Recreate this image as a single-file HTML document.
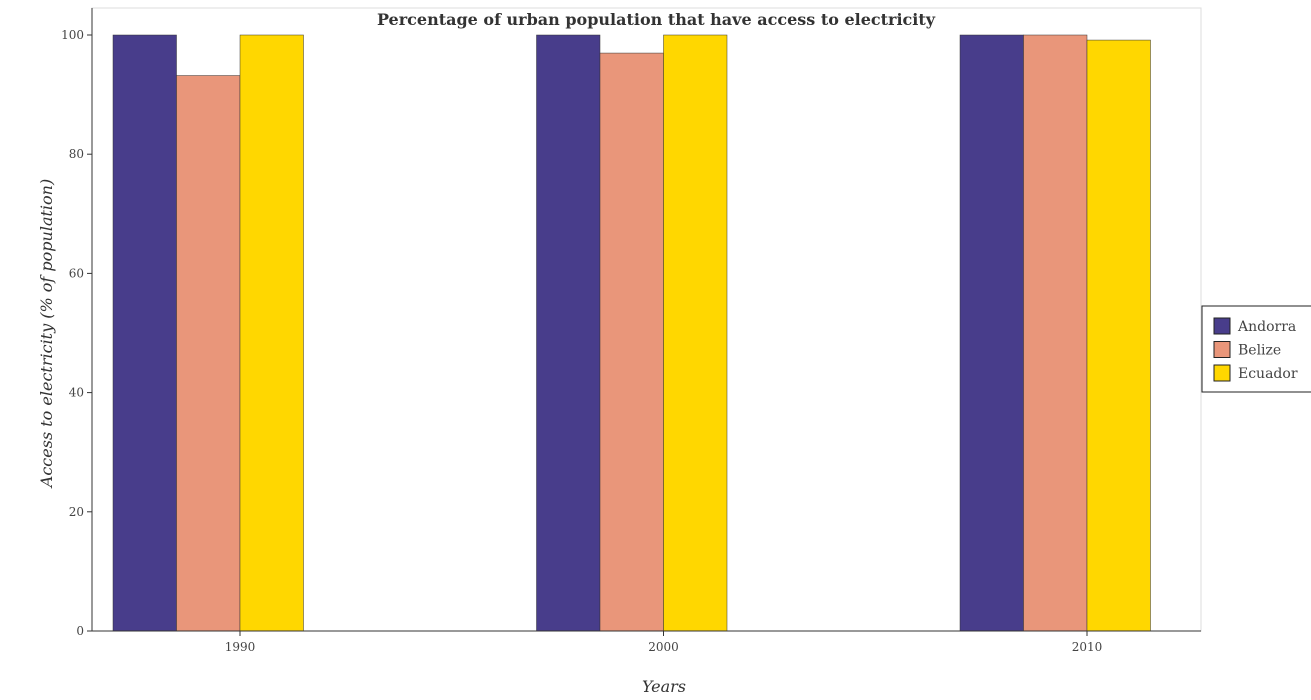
<!DOCTYPE html>
<html><head><meta charset="utf-8"><style>body{margin:0;background:#fff}svg{display:block;font-family:"DejaVu Serif","Liberation Serif",serif}</style></head><body>
<svg width="1311" height="700">
<rect x="0" y="0" width="1311" height="700" fill="#fff"/>
<rect x="92" y="8" width="1109" height="623" fill="#fff" stroke="#ddd"/>
<g id="bars"></g><g id="axes"></g>
<text x="656" y="25" text-anchor="middle" font-size="16" font-weight="bold" fill="#333">Percentage of urban population that have access to electricity</text>
<text x="664" y="692" text-anchor="middle" font-size="16" font-style="italic" fill="#333">Years</text>
<text transform="translate(52,333) rotate(-90)" text-anchor="middle" font-size="16" font-style="italic" fill="#333">Access to electricity (% of population)</text>
<g>
<rect x="1202" y="306" width="115" height="86" fill="#fff" stroke="#222"/>
<g id="legend"></g></g>
</svg>
<script>
const categories=["1990","2000","2010"];
const seriesNames=["Andorra","Belize","Ecuador"];
const andorra=[100,100,100];
const belize=[93.2,96.97,100];
const ecuador=[100,100,99.15];
const yTicks=[0,20,40,60,80,100];
const colors=["#483d8b","#e9967a","#ffd700"];
const ns="http://www.w3.org/2000/svg";
const y=v=>631-v*5.96;
const xc=i=>240+i*423.5;
const bw=63.5;
function mk(t,a,p){const e=document.createElementNS(ns,t);for(const k in a)e.setAttribute(k,a[k]);p.appendChild(e);return e;}
const bars=document.getElementById('bars'),axes=document.getElementById('axes');
[andorra,belize,ecuador].forEach((s,si)=>{s.forEach((v,i)=>{
const r=mk('rect',{x:xc(i)+(si-2)*bw,y:y(v),width:bw,height:631-y(v),fill:colors[si],stroke:"#333","stroke-width":0.5},bars);

});});
mk('line',{x1:92,y1:631,x2:1201,y2:631,stroke:"#333"},axes);
mk('line',{x1:92,y1:8,x2:92,y2:631,stroke:"#333"},axes);
yTicks.forEach(t=>{mk('line',{x1:87,x2:92,y1:y(t),y2:y(t),stroke:"#333"},axes);
const tx=mk('text',{x:84,y:y(t)+4,"text-anchor":"end","font-size":12,fill:"#444"},axes);tx.textContent=t;

});
categories.forEach((c,i)=>{mk('line',{x1:xc(i),x2:xc(i),y1:631,y2:636,stroke:"#333"},axes);
const tx=mk('text',{x:xc(i),y:651,"text-anchor":"middle","font-size":12,fill:"#444"},axes);tx.textContent=c;

});
const lg=document.getElementById('legend');
seriesNames.forEach((n,i)=>{const yy=318+i*23.5;
mk('rect',{x:1214,y:yy,width:16,height:16,fill:colors[i],stroke:"#222"},lg);
const tx=mk('text',{x:1238,y:yy+13,"font-size":14,fill:"#444"},lg);tx.textContent=n;

});
</script>
</body></html>
